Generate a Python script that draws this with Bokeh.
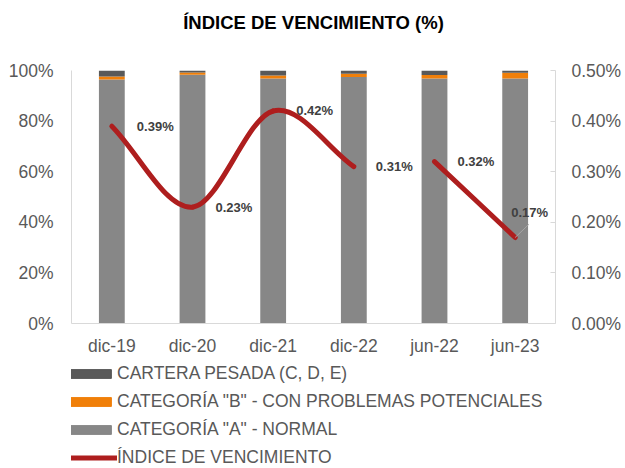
from bokeh.plotting import figure
from bokeh.layouts import column
from bokeh.models import (FactorRange, Range1d, LinearAxis, FixedTicker, PrintfTickFormatter,
                          Legend, LegendItem, ColumnDataSource)
from bokeh.embed import file_html
from bokeh.resources import INLINE
from bokeh.core.properties import value

# ---------------- data ----------------
title_text = "ÍNDICE DE VENCIMIENTO (%)"
categories = ["dic-19", "dic-20", "dic-21", "dic-22", "jun-22", "jun-23"]
cat_a = [96.4, 98.3, 96.8, 97.4, 96.8, 96.8]      # CATEGORÍA "A" - NORMAL (%)
cat_b = [1.2, 0.9, 1.2, 1.3, 1.4, 2.3]            # CATEGORÍA "B" (%)
pesada = [2.4, 0.8, 2.0, 1.3, 1.8, 0.9]           # CARTERA PESADA (%)
indice = [0.39, 0.23, 0.42, 0.31, 0.32, 0.17]     # ÍNDICE DE VENCIMIENTO (%)
line_segments = [[0, 1, 2, 3], [4, 5]]            # line is broken between dic-22 and jun-22
left_ticks = [0, 20, 40, 60, 80, 100]
right_ticks = [0.0, 0.1, 0.2, 0.3, 0.4, 0.5]
legend_labels = ["CARTERA PESADA (C, D, E)", 'CATEGORÍA "B" - CON PROBLEMAS POTENCIALES',
                 'CATEGORÍA "A" - NORMAL', "ÍNDICE DE VENCIMIENTO"]

FONT = "Liberation Sans"
C_A, C_B, C_P, C_L = "#878787", "#F07F09", "#595959", "#AE1E1E"
TXT = "#595959"
FS = "17.5px"
W = 625

# ---------------- title strip ----------------
p0 = figure(width=W, height=44, x_range=Range1d(0, 1), y_range=Range1d(0, 1),
            x_axis_type=None, y_axis_type=None, title_location=None,
            output_backend="svg", toolbar_location=None,
            min_border_left=0, min_border_right=0, min_border_top=0, min_border_bottom=0)
p0.grid.visible = False
p0.outline_line_color = None
p0.text(x=[0.5], y=[0.5], text=[title_text], text_font=value(FONT), text_font_style="bold",
        text_font_size="18.5px", text_color="#000000", text_align="center",
        text_baseline="middle")

# ---------------- main chart ----------------
p = figure(x_range=FactorRange(*categories), y_range=Range1d(0, 100),
           frame_width=484, frame_height=253, output_backend="svg", toolbar_location=None,
           title_location=None,
           min_border_left=71, min_border_right=70, min_border_top=26, min_border_bottom=40)
p.extra_y_ranges = {"idx": Range1d(0, 0.5)}

src = ColumnDataSource(dict(cat=categories, a=cat_a, b=cat_b, c=pesada))
bars = p.vbar_stack(["a", "b", "c"], x="cat", width=0.32, color=[C_A, C_B, C_P],
                    line_color=None, source=src)

# smoothed line (Catmull-Rom -> cubic Bezier), drawn per continuous segment
xs = [i + 0.5 for i in range(len(categories))]
bx0, by0, bx1, by1, cx0, cy0, cx1, cy1 = ([] for _ in range(8))
for seg in line_segments:
    px = [xs[i] for i in seg]
    py = [indice[i] for i in seg]
    n = len(seg)
    tx, ty = [], []
    for k in range(n):
        a = max(k - 1, 0)
        b = min(k + 1, n - 1)
        f = 0.5 if (k > 0 and k < n - 1) else 1.0
        tx.append((px[b] - px[a]) * f)
        ty.append((py[b] - py[a]) * f)
    for k in range(n - 1):
        bx0.append(px[k]); by0.append(py[k])
        bx1.append(px[k + 1]); by1.append(py[k + 1])
        cx0.append(px[k] + tx[k] / 3); cy0.append(py[k] + ty[k] / 3)
        cx1.append(px[k + 1] - tx[k + 1] / 3); cy1.append(py[k + 1] - ty[k + 1] / 3)
p.bezier(x0=bx0, y0=by0, x1=bx1, y1=by1, cx0=cx0, cy0=cy0, cx1=cx1, cy1=cy1,
         y_range_name="idx", line_color=C_L, line_width=5, line_cap="round")

# leader line for the last label
p.segment(x0=[xs[5]], y0=[indice[5]], x1=[xs[5] + 0.17], y1=[indice[5] + 0.026],
          y_range_name="idx", line_color="#A6A6A6", line_width=1)

labels = ["%.2f%%" % v for v in indice]
x_off = [25, 23, 23, 22, 23, -4]
y_off = [0, 0, 0, 0, 0, -25]
lsrc = ColumnDataSource(dict(x=xs, y=indice, t=labels, xo=x_off, yo=y_off))
p.text(x="x", y="y", text="t", x_offset="xo", y_offset="yo", source=lsrc, y_range_name="idx",
       text_font=value(FONT), text_font_style="bold", text_font_size="13px",
       text_color="#404040", text_align="left", text_baseline="middle")

# axes
p.grid.visible = False
p.outline_line_color = None
for ax in p.xaxis:
    ax.axis_line_color = "#D9D9D9"
    ax.major_tick_line_color = None
    ax.major_tick_out = 0
    ax.major_tick_in = 0
    ax.minor_tick_line_color = None
    ax.major_label_text_font = FONT
    ax.major_label_text_font_size = FS
    ax.major_label_text_color = TXT
    ax.major_label_standoff = 12
for ax in p.yaxis:
    ax.ticker = FixedTicker(ticks=left_ticks)
    ax.formatter = PrintfTickFormatter(format="%d%%")
    ax.axis_line_color = "#D9D9D9"
    ax.major_tick_line_color = None
    ax.major_tick_out = 0
    ax.major_tick_in = 0
    ax.minor_tick_line_color = None
    ax.major_label_text_font = FONT
    ax.major_label_text_font_size = FS
    ax.major_label_text_color = TXT
    ax.major_label_standoff = 18

rax = LinearAxis(y_range_name="idx", ticker=FixedTicker(ticks=right_ticks),
                 formatter=PrintfTickFormatter(format="%.2f%%"))
rax.axis_line_color = "#D9D9D9"
rax.major_tick_line_color = "#D9D9D9"
rax.major_tick_in = 5
rax.major_tick_out = 0
rax.minor_tick_line_color = None
rax.major_label_text_font = FONT
rax.major_label_text_font_size = FS
rax.major_label_text_color = TXT
rax.major_label_standoff = 16
p.add_layout(rax, "right")

# ---------------- legend strip ----------------
p2 = figure(width=W, height=105, x_range=Range1d(0, 1), y_range=Range1d(0, 1),
            x_axis_type=None, y_axis_type=None, title_location=None,
            output_backend="svg", toolbar_location=None,
            min_border_left=0, min_border_right=0, min_border_top=0, min_border_bottom=0)
p2.grid.visible = False
p2.outline_line_color = None
r_p = p2.vbar(x=xs, top=pesada, width=0.1, color=C_P, visible=False)
r_b = p2.vbar(x=xs, top=cat_b, width=0.1, color=C_B, visible=False)
r_a = p2.vbar(x=xs, top=cat_a, width=0.1, color=C_A, visible=False)
r_l = p2.line(x=xs, y=indice, line_color=C_L, line_width=5, line_cap="round", visible=False)
legend = Legend(items=[LegendItem(label=lab, renderers=[r]) for lab, r in
                       zip(legend_labels, [r_p, r_b, r_a, r_l])],
                location=(-15, 0), glyph_width=61, glyph_height=11, label_height=20, spacing=7,
                padding=0, margin=0, label_standoff=0, label_text_font=FONT,
                label_text_font_size=FS, label_text_color=TXT, label_text_baseline="middle",
                border_line_color=None, background_fill_alpha=0, inactive_fill_alpha=0)
p2.add_layout(legend)

open("out.html", "w").write(file_html(column(p0, p, p2, spacing=0), INLINE))
